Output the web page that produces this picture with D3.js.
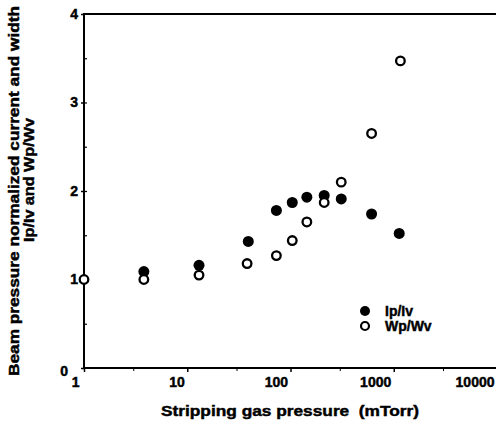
<!DOCTYPE html>
<html><head><meta charset="utf-8">
<script src="https://cdn.jsdelivr.net/npm/d3@7"></script>
<style>body{margin:0;background:#fff}svg{display:block}text{font-family:"Liberation Sans",Arial,sans-serif;font-weight:bold;fill:#000;stroke:#000;stroke-width:0.45px}</style>
</head><body><svg id="c" width="496" height="428"></svg>
<script>
const ipIvPressure = [3.8, 13, 39, 73, 104, 144, 212, 310, 610, 1130];
const ipIvValue    = [1.09, 1.16, 1.43, 1.78, 1.87, 1.93, 1.95, 1.91, 1.74, 1.52];
const wpWvPressure = [1, 3.8, 13, 38, 73, 104, 144, 212, 310, 610, 1160];
const wpWvValue    = [1.0, 1.0, 1.05, 1.18, 1.27, 1.44, 1.65, 1.87, 2.10, 2.65, 3.47];
const xTickValues  = [1, 10, 100, 1000, 10000];
const xTickLabels  = ["1", "10", "100", "1000", "10000"];
const yTickValues  = [0, 1, 2, 3, 4];
const legendLabels = ["Ip/Iv", "Wp/Wv"];
const xTitle = "Stripping gas pressure  (mTorr)";
const yTitle1 = "Beam pressure normalized current and width";
const yTitle2 = "Ip/Iv and Wp/Wv";

const svg = d3.select("#c");
const x = d3.scaleLog().domain([1, 10000]).range([84, 497]);
const y = d3.scaleLinear().domain([0, 4]).range([368, 14]);
const FONT = "Liberation Sans, Arial, sans-serif";

// frame
svg.append("rect").attr("x", x(1)).attr("y", y(4)).attr("width", x(10000) - x(1)).attr("height", y(0) - y(4))
  .attr("fill", "none").attr("stroke", "#000").attr("stroke-width", 2);

// y axis (outer major ticks + labels)
const yAx = svg.append("g").attr("transform", `translate(${x(1)},0)`)
  .call(d3.axisLeft(y).tickValues(yTickValues).tickSize(3).tickPadding(3).tickFormat(d3.format("d")));
yAx.select(".domain").remove();
yAx.selectAll("line").attr("stroke-width", 1.5);
yAx.selectAll("text").attr("font-size", 14).style("font-weight", "bold").attr("font-family", FONT)
  .style("stroke", "#000").style("stroke-width", "0.45px");
yAx.selectAll(".tick").filter(d => d === 0).select("text").attr("dx", -10).attr("dy", "0.55em");
// inner minor ticks at every 0.5
svg.append("g").attr("transform", `translate(${x(1)},0)`)
  .call(d3.axisRight(y).tickValues(d3.range(0.5, 4, 0.5)).tickSize(3).tickFormat(""))
  .call(g => g.select(".domain").remove())
  .selectAll("line").attr("stroke-width", 1.2);

// x axis
const xAx = svg.append("g").attr("transform", `translate(0,${y(0)})`)
  .call(d3.axisBottom(x).tickValues(xTickValues).tickSize(4).tickPadding(5).tickFormat((d, i) => xTickLabels[i]));
xAx.select(".domain").remove();
xAx.selectAll("line").attr("stroke-width", 1.5);
xAx.selectAll("text").attr("font-size", 14).style("font-weight", "bold").attr("font-family", FONT)
  .style("stroke", "#000").style("stroke-width", "0.45px")
  .attr("text-anchor", "end").attr("dx", (d, i) => i === 0 ? -5 : -3);
svg.append("g").attr("transform", `translate(0,${y(0)})`)
  .call(d3.axisBottom(x).tickValues([3, 30, 300, 3000]).tickSize(3).tickFormat(""))
  .call(g => g.select(".domain").remove())
  .selectAll("line").attr("stroke-width", 1);

// titles
svg.append("text").attr("x", 290).attr("y", 416).attr("text-anchor", "middle").attr("font-size", 15)
  .attr("xml:space", "preserve").style("white-space", "pre")
  .attr("textLength", 258).attr("lengthAdjust", "spacingAndGlyphs").text(xTitle);
svg.append("text").attr("transform", "translate(19,191) rotate(-90)").attr("text-anchor", "middle").attr("font-size", 14)
  .attr("textLength", 370).attr("lengthAdjust", "spacingAndGlyphs").text(yTitle1);
svg.append("text").attr("transform", "translate(34,180) rotate(-90)").attr("text-anchor", "middle").attr("font-size", 14)
  .attr("textLength", 124).attr("lengthAdjust", "spacingAndGlyphs").text(yTitle2);

// data
const ip = ipIvPressure.map((p, i) => ({p, v: ipIvValue[i]}));
const wp = wpWvPressure.map((p, i) => ({p, v: wpWvValue[i]}));
svg.append("g").selectAll("circle").data(ip).join("circle")
  .attr("cx", d => x(d.p)).attr("cy", d => y(d.v)).attr("r", 5.5).attr("fill", "#000");
svg.append("g").selectAll("circle").data(wp).join("circle")
  .attr("cx", d => x(d.p)).attr("cy", d => y(d.v)).attr("r", 4.3).attr("fill", "#fff").attr("stroke", "#000").attr("stroke-width", 2.3);

// legend
const lg = svg.append("g");
lg.append("circle").attr("cx", 365).attr("cy", 311).attr("r", 5).attr("fill", "#000");
lg.append("circle").attr("cx", 365).attr("cy", 326).attr("r", 4).attr("fill", "#fff").attr("stroke", "#000").attr("stroke-width", 2.2);
lg.append("text").attr("x", 385).attr("y", 316).attr("font-size", 14).text(legendLabels[0]);
lg.append("text").attr("x", 385).attr("y", 331).attr("font-size", 14).text(legendLabels[1]);
</script></body></html>
